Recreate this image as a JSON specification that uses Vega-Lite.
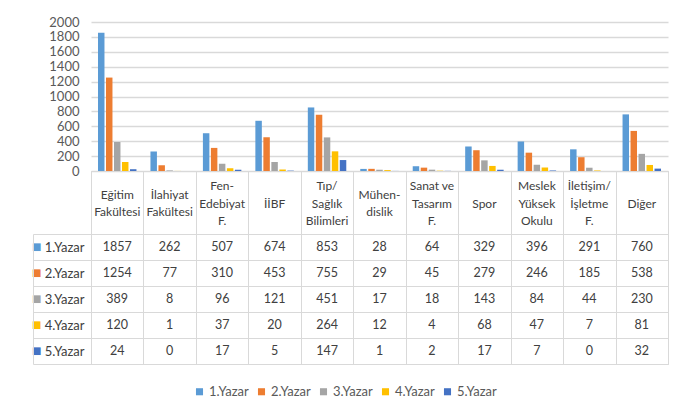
{
  "$schema": "https://vega.github.io/schema/vega-lite/v6.json",
  "padding": {"left": 31, "top": 16, "right": 6, "bottom": 2},
  "background": "white",
  "spacing": 0,
  "bounds": "flush",
  "config": {"view": {"stroke": null}, "font": "Lato"},
  "datasets": {
    "cats": [
      {"k": "Eğitim|Fakültesi"}, {"k": "İlahiyat|Fakültesi"}, {"k": "Fen-|Edebiyat|F."}, {"k": "İİBF"},
      {"k": "Tıp/|Sağlık|Bilimleri"}, {"k": "Mühen-|dislik"}, {"k": "Sanat ve|Tasarım|F."}, {"k": "Spor"},
      {"k": "Meslek|Yüksek|Okulu"}, {"k": "İletişim/|İşletme|F."}, {"k": "Diğer"}
    ],
    "main": [
      {"k": "Eğitim|Fakültesi", "s": "1.Yazar", "v": 1857},
      {"k": "İlahiyat|Fakültesi", "s": "1.Yazar", "v": 262},
      {"k": "Fen-|Edebiyat|F.", "s": "1.Yazar", "v": 507},
      {"k": "İİBF", "s": "1.Yazar", "v": 674},
      {"k": "Tıp/|Sağlık|Bilimleri", "s": "1.Yazar", "v": 853},
      {"k": "Mühen-|dislik", "s": "1.Yazar", "v": 28},
      {"k": "Sanat ve|Tasarım|F.", "s": "1.Yazar", "v": 64},
      {"k": "Spor", "s": "1.Yazar", "v": 329},
      {"k": "Meslek|Yüksek|Okulu", "s": "1.Yazar", "v": 396},
      {"k": "İletişim/|İşletme|F.", "s": "1.Yazar", "v": 291},
      {"k": "Diğer", "s": "1.Yazar", "v": 760},
      {"k": "Eğitim|Fakültesi", "s": "2.Yazar", "v": 1254},
      {"k": "İlahiyat|Fakültesi", "s": "2.Yazar", "v": 77},
      {"k": "Fen-|Edebiyat|F.", "s": "2.Yazar", "v": 310},
      {"k": "İİBF", "s": "2.Yazar", "v": 453},
      {"k": "Tıp/|Sağlık|Bilimleri", "s": "2.Yazar", "v": 755},
      {"k": "Mühen-|dislik", "s": "2.Yazar", "v": 29},
      {"k": "Sanat ve|Tasarım|F.", "s": "2.Yazar", "v": 45},
      {"k": "Spor", "s": "2.Yazar", "v": 279},
      {"k": "Meslek|Yüksek|Okulu", "s": "2.Yazar", "v": 246},
      {"k": "İletişim/|İşletme|F.", "s": "2.Yazar", "v": 185},
      {"k": "Diğer", "s": "2.Yazar", "v": 538},
      {"k": "Eğitim|Fakültesi", "s": "3.Yazar", "v": 389},
      {"k": "İlahiyat|Fakültesi", "s": "3.Yazar", "v": 8},
      {"k": "Fen-|Edebiyat|F.", "s": "3.Yazar", "v": 96},
      {"k": "İİBF", "s": "3.Yazar", "v": 121},
      {"k": "Tıp/|Sağlık|Bilimleri", "s": "3.Yazar", "v": 451},
      {"k": "Mühen-|dislik", "s": "3.Yazar", "v": 17},
      {"k": "Sanat ve|Tasarım|F.", "s": "3.Yazar", "v": 18},
      {"k": "Spor", "s": "3.Yazar", "v": 143},
      {"k": "Meslek|Yüksek|Okulu", "s": "3.Yazar", "v": 84},
      {"k": "İletişim/|İşletme|F.", "s": "3.Yazar", "v": 44},
      {"k": "Diğer", "s": "3.Yazar", "v": 230},
      {"k": "Eğitim|Fakültesi", "s": "4.Yazar", "v": 120},
      {"k": "İlahiyat|Fakültesi", "s": "4.Yazar", "v": 1},
      {"k": "Fen-|Edebiyat|F.", "s": "4.Yazar", "v": 37},
      {"k": "İİBF", "s": "4.Yazar", "v": 20},
      {"k": "Tıp/|Sağlık|Bilimleri", "s": "4.Yazar", "v": 264},
      {"k": "Mühen-|dislik", "s": "4.Yazar", "v": 12},
      {"k": "Sanat ve|Tasarım|F.", "s": "4.Yazar", "v": 4},
      {"k": "Spor", "s": "4.Yazar", "v": 68},
      {"k": "Meslek|Yüksek|Okulu", "s": "4.Yazar", "v": 47},
      {"k": "İletişim/|İşletme|F.", "s": "4.Yazar", "v": 7},
      {"k": "Diğer", "s": "4.Yazar", "v": 81},
      {"k": "Eğitim|Fakültesi", "s": "5.Yazar", "v": 24},
      {"k": "İlahiyat|Fakültesi", "s": "5.Yazar", "v": 0},
      {"k": "Fen-|Edebiyat|F.", "s": "5.Yazar", "v": 17},
      {"k": "İİBF", "s": "5.Yazar", "v": 5},
      {"k": "Tıp/|Sağlık|Bilimleri", "s": "5.Yazar", "v": 147},
      {"k": "Mühen-|dislik", "s": "5.Yazar", "v": 1},
      {"k": "Sanat ve|Tasarım|F.", "s": "5.Yazar", "v": 2},
      {"k": "Spor", "s": "5.Yazar", "v": 17},
      {"k": "Meslek|Yüksek|Okulu", "s": "5.Yazar", "v": 7},
      {"k": "İletişim/|İşletme|F.", "s": "5.Yazar", "v": 0},
      {"k": "Diğer", "s": "5.Yazar", "v": 32}
    ]
  },
  "vconcat": [
    {
      "width": 577,
      "height": 149,
      "data": {"name": "main"},
      "mark": {"type": "bar"},
      "encoding": {
        "x": {"field": "k", "type": "nominal", "axis": null,
          "scale": {"domain": ["Eğitim|Fakültesi","İlahiyat|Fakültesi","Fen-|Edebiyat|F.","İİBF","Tıp/|Sağlık|Bilimleri","Mühen-|dislik","Sanat ve|Tasarım|F.","Spor","Meslek|Yüksek|Okulu","İletişim/|İşletme|F.","Diğer"], "paddingInner": 0, "paddingOuter": 0}},
        "xOffset": {"field": "s", "type": "nominal",
          "scale": {"domain": ["1.Yazar","2.Yazar","3.Yazar","4.Yazar","5.Yazar"], "paddingInner": 0.19, "paddingOuter": 0.875}},
        "y": {"field": "v", "type": "quantitative",
          "scale": {"domain": [0, 2000], "nice": false},
          "axis": {"title": null, "values": [0,200,400,600,800,1000,1200,1400,1600,1800,2000], "format": "d", "domain": false, "ticks": false,
            "labelPadding": 12, "labelFont": "Lato", "labelFontSize": 13, "labelColor": "#595959",
            "gridColor": "#D9D9D9", "gridWidth": 1.5}},
        "color": {"field": "s", "type": "nominal",
          "scale": {"domain": ["1.Yazar","2.Yazar","3.Yazar","4.Yazar","5.Yazar"], "range": ["#5B9BD5","#ED7D31","#A5A5A5","#FFC000","#4472C4"]},
          "legend": {"title": null, "orient": "none", "legendX": 102, "legendY": 363, "direction": "horizontal",
            "symbolType": "square", "symbolSize": 50, "symbolStrokeWidth": 0, "labelFont": "Lato",
            "labelFontSize": 13, "labelColor": "#595959", "columnPadding": 6, "labelOffset": 3}}
      }
    },
    {
      "width": 577,
      "height": 63,
      "view": {"stroke": "#D9D9D9"},
      "data": {"name": "cats"},
      "mark": {"type": "text", "lineBreak": "|", "font": "Lato", "fontSize": 12, "color": "#404040", "lineHeight": 17.5, "baseline": "middle",
        "dy": {"expr": "-(length(split(datum.k, '|')) - 1) * 8.75 + 1"}},
      "encoding": {
        "x": {"field": "k", "type": "nominal",
          "scale": {"domain": ["Eğitim|Fakültesi","İlahiyat|Fakültesi","Fen-|Edebiyat|F.","İİBF","Tıp/|Sağlık|Bilimleri","Mühen-|dislik","Sanat ve|Tasarım|F.","Spor","Meslek|Yüksek|Okulu","İletişim/|İşletme|F.","Diğer"], "paddingInner": 0, "paddingOuter": 0},
          "axis": {"title": null, "labels": false, "ticks": false, "domain": false, "grid": true, "tickBand": "extent", "gridColor": "#D9D9D9"}},
        "text": {"field": "k"}
      }
    },
    {
      "width": 577,
      "height": 130,
      "view": {"stroke": "#D9D9D9"},
      "data": {"name": "main"},
      "resolve": {"axis": {"y": "independent"}},
      "layer": [
        {
          "mark": {"type": "text", "font": "Lato", "fontSize": 12.5, "color": "#404040"},
          "encoding": {
            "x": {"field": "k", "type": "nominal",
              "scale": {"domain": ["Eğitim|Fakültesi","İlahiyat|Fakültesi","Fen-|Edebiyat|F.","İİBF","Tıp/|Sağlık|Bilimleri","Mühen-|dislik","Sanat ve|Tasarım|F.","Spor","Meslek|Yüksek|Okulu","İletişim/|İşletme|F.","Diğer"], "paddingInner": 0, "paddingOuter": 0},
              "axis": {"title": null, "labels": false, "ticks": false, "domain": false, "grid": true, "tickBand": "extent", "gridColor": "#D9D9D9"}},
            "y": {"field": "s", "type": "nominal",
              "scale": {"domain": ["1.Yazar","2.Yazar","3.Yazar","4.Yazar","5.Yazar"], "paddingInner": 0, "paddingOuter": 0},
              "axis": {"title": null, "orient": "left", "domain": true, "domainColor": "#D9D9D9", "ticks": true, "tickBand": "extent",
                "tickSize": 58, "tickColor": "#D9D9D9", "grid": true, "gridColor": "#D9D9D9", "labelPadding": -51,
                "labelFont": "Lato", "labelFontSize": 13, "labelColor": "#404040"}},
            "text": {"field": "v", "type": "quantitative", "format": "d"}
          }
        },
        {
          "mark": {"type": "text", "opacity": 0},
          "encoding": {
            "x": {"field": "k", "type": "nominal"},
            "y": {"field": "s", "type": "nominal",
              "axis": {"title": null, "orient": "left", "offset": 58, "domain": true, "domainColor": "#D9D9D9", "ticks": false, "grid": false,
                "labelExpr": "'■'", "labelPadding": -8, "labelFont": "DejaVu Sans", "labelFontSize": 10,
                "labelColor": {"condition": [
                  {"test": "datum.value === '1.Yazar'", "value": "#5B9BD5"},
                  {"test": "datum.value === '2.Yazar'", "value": "#ED7D31"},
                  {"test": "datum.value === '3.Yazar'", "value": "#A5A5A5"},
                  {"test": "datum.value === '4.Yazar'", "value": "#FFC000"}
                ], "value": "#4472C4"}}},
            "text": {"field": "v", "type": "quantitative"}
          }
        }
      ]
    }
  ]
}
